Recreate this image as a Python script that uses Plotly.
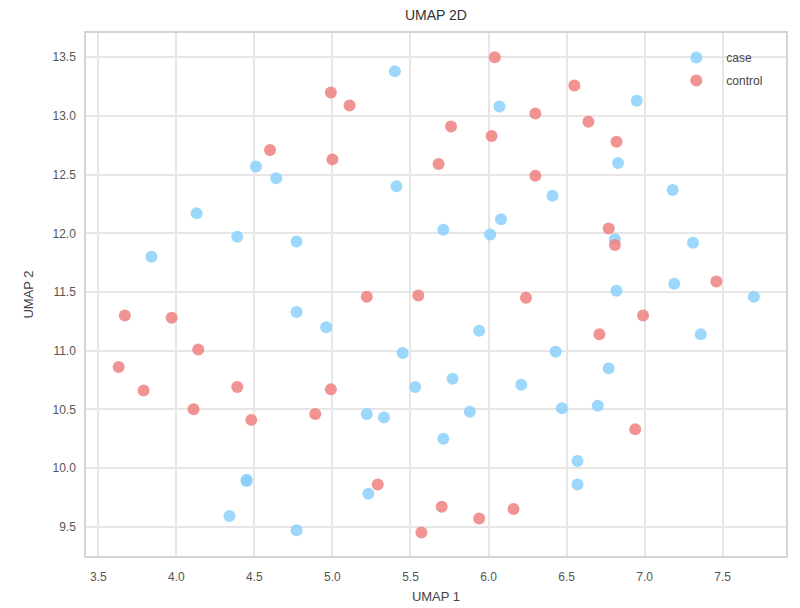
import plotly.graph_objects as go

# UMAP embedding coordinates, per group
case_x = [5.40, 6.95, 6.07, 6.83, 4.51, 4.64, 5.41, 6.41, 7.18, 4.13,
          4.39, 4.77, 3.84, 6.08, 5.71, 6.01, 6.81, 7.31, 7.19, 6.82,
          7.70, 4.77, 4.96, 5.94, 7.36, 5.45, 6.43, 6.77, 5.77, 5.53,
          6.21, 5.22, 5.33, 5.88, 6.47, 6.70, 5.71, 6.57, 6.57, 4.45,
          4.45, 5.23, 4.34, 4.77]
case_y = [13.38, 13.13, 13.08, 12.60, 12.57, 12.47, 12.40, 12.32, 12.37, 12.17,
          11.97, 11.93, 11.80, 12.12, 12.03, 11.99, 11.95, 11.92, 11.57, 11.51,
          11.46, 11.33, 11.20, 11.17, 11.14, 10.98, 10.99, 10.85, 10.76, 10.69,
          10.71, 10.46, 10.43, 10.48, 10.51, 10.53, 10.25, 10.06, 9.86, 9.90,
          9.89, 9.78, 9.59, 9.47]

control_x = [4.99, 5.11, 4.60, 5.00, 5.22, 6.04, 6.55, 6.30, 5.76, 6.64,
             6.02, 6.82, 5.68, 6.30, 6.77, 6.81, 7.46, 5.55, 6.24, 3.67,
             3.97, 4.14, 3.63, 3.79, 4.39, 4.99, 4.11, 4.48, 4.89, 5.29,
             6.99, 6.71, 6.94, 5.70, 6.16, 5.94, 5.57]
control_y = [13.20, 13.09, 12.71, 12.63, 11.46, 13.50, 13.26, 13.02, 12.91, 12.95,
             12.83, 12.78, 12.59, 12.49, 12.04, 11.90, 11.59, 11.47, 11.45, 11.30,
             11.28, 11.01, 10.86, 10.66, 10.69, 10.67, 10.50, 10.41, 10.46, 9.86,
             11.30, 11.14, 10.33, 9.67, 9.65, 9.57, 9.45]

x_ticks = [3.5, 4.0, 4.5, 5.0, 5.5, 6.0, 6.5, 7.0, 7.5]
y_ticks = [9.5, 10.0, 10.5, 11.0, 11.5, 12.0, 12.5, 13.0, 13.5]

FONT = "Liberation Sans, Arial, sans-serif"
GRID = "#e6e6e6"

fig = go.Figure()
fig.add_trace(go.Scatter(
    x=case_x, y=case_y, mode="markers", name="case", legendgroup="case",
    marker=dict(size=12, color="rgba(135,206,250,0.82)", line=dict(width=0)),
))
fig.add_trace(go.Scatter(
    x=control_x, y=control_y, mode="markers", name="control", legendgroup="control",
    marker=dict(size=12, color="rgba(240,128,128,0.85)", line=dict(width=0)),
))

axis_common = dict(
    showgrid=True, gridcolor=GRID, gridwidth=1.5,
    showline=True, linecolor="#d4d4d4", linewidth=1.5, mirror=True,
    zeroline=False, ticks="", automargin=False,
    tickfont=dict(family=FONT, size=12, color="#555555"),
    title_font=dict(family=FONT, size=13, color="#444444"),
)

fig.update_xaxes(range=[3.421, 7.906], tickvals=x_ticks,
                 ticktext=[f"{v:.1f}" for v in x_ticks],
                 title_text="UMAP 1", title_standoff=9,
                 ticklabelstandoff=9, **axis_common)
fig.update_yaxes(range=[9.25, 13.707], tickvals=y_ticks,
                 ticktext=[f"{v:.1f}" for v in y_ticks],
                 title_text="UMAP 2", title_standoff=16,
                 ticklabelstandoff=6, **axis_common)

fig.update_layout(
    width=800, height=608,
    margin=dict(l=86, r=14, t=33, b=52),
    paper_bgcolor="white", plot_bgcolor="white",
    title=dict(text="UMAP 2D", x=0.545, xanchor="center", y=0.975, yanchor="middle",
               font=dict(family=FONT, size=14, color="#333333")),
    legend=dict(x=0.829, y=0.981, xanchor="left", yanchor="top",
                bgcolor="rgba(0,0,0,0)", borderwidth=0,
                font=dict(family=FONT, size=12, color="#444444"),
                itemwidth=50, tracegroupgap=4),
    showlegend=True,
)

fig.write_html("out.html")
